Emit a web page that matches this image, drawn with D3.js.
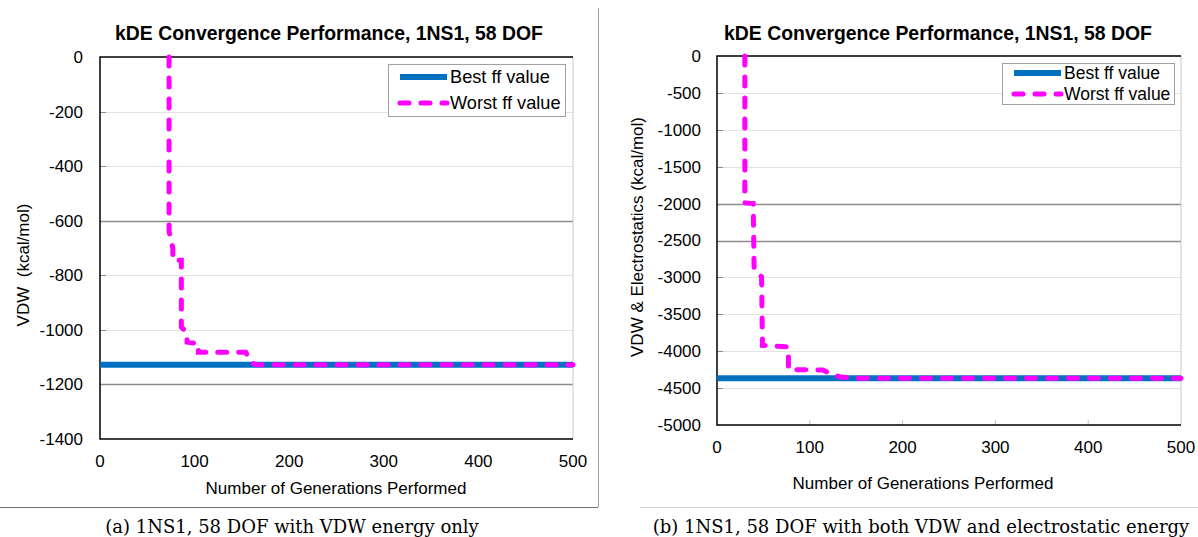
<!DOCTYPE html>
<html><head><meta charset="utf-8">
<script src="https://cdn.jsdelivr.net/npm/d3@7"></script>
<style>
body{margin:0;background:#fff;}
svg text{font-family:"Liberation Sans",Arial,sans-serif;fill:#000;}
</style></head>
<body><div id="chart"></div>
<script>
// chart values
const xTicks=[0,100,200,300,400,500];
const yTicksA=[0,-200,-400,-600,-800,-1000,-1200,-1400];
const yTicksB=[0,-500,-1000,-1500,-2000,-2500,-3000,-3500,-4000,-4500,-5000];
const darkA=[-600,-1200], darkB=[-2000,-2500];
const seriesNames=["Best ff value","Worst ff value"];
// panel (a): VDW only
const genBestA=[0,500], bestA=[-1128,-1128];
const genWorstA=[73,73,77,77,86,86,92,92,104,104,154,160,165,500];
const worstA=[0,-640,-700,-745,-745,-990,-1010,-1045,-1050,-1082,-1082,-1120,-1128,-1128];
// panel (b): VDW + electrostatics
const genBestB=[0,500], bestB=[-4365,-4365];
const genWorstB=[30,30,39,40,48,49,75,77,77,114,124,133,150,500];
const worstB=[0,-1990,-2000,-2900,-2990,-3920,-3940,-3950,-4250,-4255,-4315,-4350,-4365,-4365];
const titles=["kDE Convergence Performance, 1NS1, 58 DOF","kDE Convergence Performance, 1NS1, 58 DOF"];
const yTitles=["VDW  (kcal/mol)","VDW & Electrostatics (kcal/mol)"];
const xTitle="Number of Generations Performed";
const captions=["(a) 1NS1, 58 DOF with VDW energy only","(b) 1NS1, 58 DOF with both VDW and electrostatic energy"];

const W=1198,H=537, blue="#0070c0", pink="#ff00ff";
const svg=d3.select("#chart").append("svg").attr("width",W).attr("height",H);

// panel frames
svg.append("line").attr("x1",598.5).attr("x2",598.5).attr("y1",8).attr("y2",507).attr("stroke","#a0a0a0");
svg.append("line").attr("x1",0).attr("x2",598).attr("y1",507.5).attr("y2",507.5).attr("stroke","#707070");
svg.append("line").attr("x1",640).attr("x2",1198).attr("y1",507.5).attr("y2",507.5).attr("stroke","#d0d0d0");

function panel(o){
  const x=d3.scaleLinear().domain([0,500]).range([o.l,o.r]);
  const y=d3.scaleLinear().domain([o.yTicks[o.yTicks.length-1],0]).range([o.b,o.t]);
  const g=svg.append("g");
  // gridlines
  g.selectAll(".grid").data(o.yTicks.slice(1,-1)).join("line")
    .attr("x1",o.l).attr("x2",o.r).attr("y1",d=>Math.round(y(d))+.5).attr("y2",d=>Math.round(y(d))+.5)
    .attr("stroke",d=>o.dark.includes(d)?"#8c8c8c":"#e2e2e2").attr("stroke-width",d=>o.dark.includes(d)?1.5:1);
  g.selectAll(".tk").data(o.yTicks.slice(1,-1)).join("line")
    .attr("x1",o.l).attr("x2",o.l+6).attr("y1",d=>Math.round(y(d))+.5).attr("y2",d=>Math.round(y(d))+.5)
    .attr("stroke","#8c8c8c");
  if(o.xTickMarks) g.selectAll(".xt").data(xTicks.slice(1,-1)).join("line")
    .attr("x1",d=>x(d)).attr("x2",d=>x(d)).attr("y1",o.b-5).attr("y2",o.b).attr("stroke","#c0c0c0");
  // plot border
  g.append("line").attr("x1",o.r).attr("x2",o.r).attr("y1",o.t).attr("y2",o.b).attr("stroke","#c8c8c8");
  g.append("path").attr("d",`M${o.r},${o.t}H${o.l}V${o.b}H${o.r}`).attr("fill","none").attr("stroke","#000").attr("stroke-width",1.5);
  // axes labels
  g.selectAll(".yl").data(o.yTicks).join("text")
    .attr("x",o.yLabX).attr("y",d=>y(d)).attr("dy","0.35em").attr("text-anchor","end")
    .attr("font-size",17).text(d=>d);
  g.selectAll(".xl").data(xTicks).join("text")
    .attr("x",d=>x(d)).attr("y",o.xLabY).attr("dy","0.35em").attr("text-anchor","middle")
    .attr("font-size",17).text(d=>d);
  g.append("text").attr("x",o.xTitleX).attr("y",o.xTitleY).attr("dy","0.35em").attr("text-anchor","middle")
    .attr("font-size",17).text(xTitle);
  g.append("text").attr("transform",`translate(${o.yTitleX},${o.yTitleY}) rotate(-90)`).attr("dy","0.35em")
    .attr("text-anchor","middle").attr("font-size",17).attr("xml:space","preserve").style("white-space","pre").text(o.yTitle);
  g.append("text").attr("x",o.titleX).attr("y",40).attr("text-anchor","middle")
    .attr("font-size",19.4).attr("font-weight","bold").text(o.title);
  g.append("text").attr("x",o.capX).attr("y",533).attr("text-anchor","middle")
    .attr("font-size",18).style("font-family","'DejaVu Serif',serif").text(o.caption);
  // series
  const line=d3.line().x(d=>x(d[0])).y(d=>y(d[1]));
  g.append("path").datum(d3.zip(o.genBest,o.best)).attr("d",line).attr("fill","none")
    .attr("stroke",blue).attr("stroke-width",6);
  g.append("path").datum(d3.zip(o.genWorst,o.worst)).attr("d",line).attr("fill","none")
    .attr("stroke",pink).attr("stroke-width",5).attr("stroke-dasharray","9,12").attr("stroke-linecap","round");
  // legend
  const L=o.leg;
  g.append("rect").attr("x",L.x+.5).attr("y",L.y+.5).attr("width",L.w).attr("height",L.h)
    .attr("fill","#fff").attr("stroke","#a0a0a0");
  seriesNames.forEach((s,i)=>{
    const ly=L.y+L.r0+i*L.dy;
    g.append("line").attr("x1",L.x+12).attr("x2",L.x+59).attr("y1",ly).attr("y2",ly)
      .attr("stroke",i?pink:blue).attr("stroke-width",i?5:6)
      .attr("stroke-dasharray",i?"9,12":null).attr("stroke-linecap",i?"round":"butt");
    g.append("text").attr("x",L.x+62).attr("y",ly).attr("dy","0.35em").attr("font-size",L.fs).text(s);
  });
}

panel({l:100,r:573,t:57,b:439,yTicks:yTicksA,dark:darkA,yLabX:83,xLabY:461,xTitleX:336,xTitleY:488,
  yTitle:yTitles[0],yTitleX:23.5,yTitleY:265,title:titles[0],titleX:329,caption:captions[0],capX:292,
  genBest:genBestA,best:bestA,genWorst:genWorstA,worst:worstA,xTickMarks:false,
  leg:{x:388,y:64,w:177,h:52,r0:13,dy:26,fs:18.2}});
panel({l:717,r:1181,t:56,b:425,yTicks:yTicksB,dark:darkB,yLabX:701,xLabY:447,xTitleX:923,xTitleY:483,
  yTitle:yTitles[1],yTitleX:637,yTitleY:237,title:titles[1],titleX:938,caption:captions[1],capX:921,
  genBest:genBestB,best:bestB,genWorst:genWorstB,worst:worstB,xTickMarks:true,
  leg:{x:1002,y:63,w:172,h:41,r0:10,dy:21,fs:17.5}});
</script></body></html>
